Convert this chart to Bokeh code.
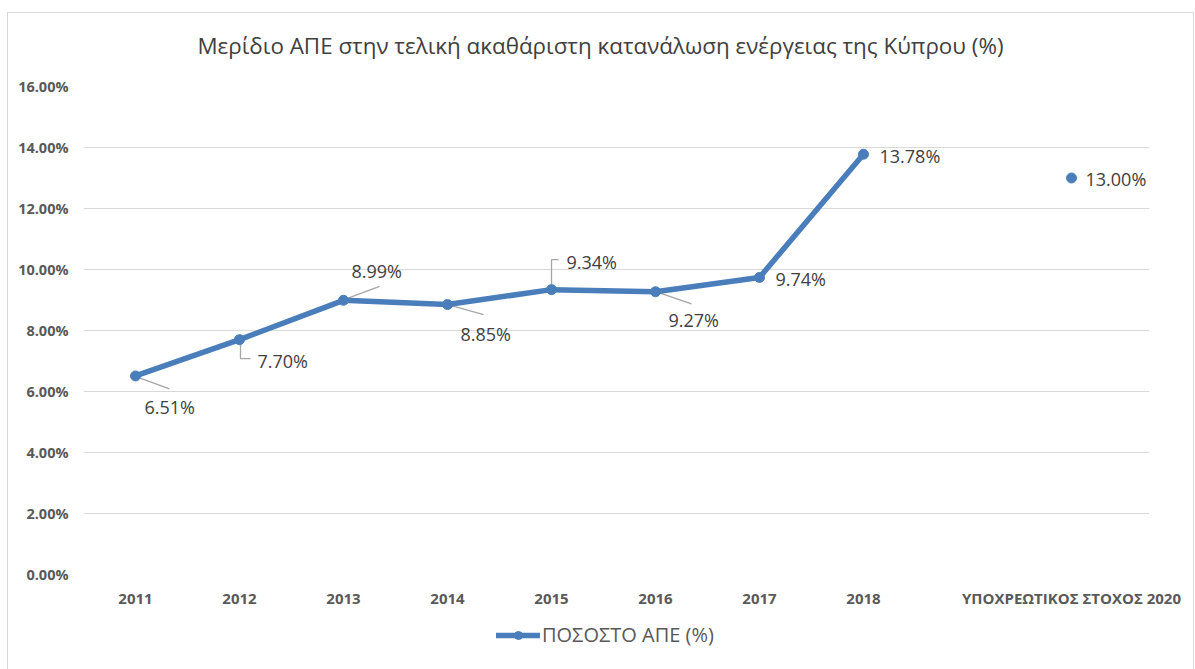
from bokeh.plotting import figure
from bokeh.layouts import column
from bokeh.models import (Legend, LegendItem, FixedTicker, PrintfTickFormatter,
                          ColumnDataSource, Range1d, LabelSet, Label)
from bokeh.embed import file_html
from bokeh.resources import INLINE
from bokeh.core.properties import value

# ---------------- data ----------------
title_text = "Μερίδιο ΑΠΕ στην τελική ακαθάριστη κατανάλωση ενέργειας της Κύπρου (%)"
series_name = "ΠΟΣΟΣΤΟ ΑΠΕ (%)"
categories = ["2011", "2012", "2013", "2014", "2015", "2016", "2017", "2018", "",
              "ΥΠΟΧΡΕΩΤΙΚΟΣ ΣΤΟΧΟΣ 2020"]
share = [6.51, 7.70, 8.99, 8.85, 9.34, 9.27, 9.74, 13.78, None, 13.00]
y_ticks = [0, 2, 4, 6, 8, 10, 12, 14, 16]

# ---------------- style / layout ----------------
BLUE = "#4A7EBB"
FONT = "Open Sans"
W = 1185
TITLE_H = 60
CAT_PX = 104                       # pixels per category slot
EXTRA = 0.25                       # extra room on the right for the last data label
FW, FH = int(CAT_PX * (len(categories) + EXTRA)), 488
ML, MT, MB = 75, 13, 40
MR = W - ML - FW
H = MT + FH + MB
LEG_H = 55
PX_X = CAT_PX
PX_Y = FH / (y_ticks[-1] - y_ticks[0])

# label offsets (pixels, screen y down) and leader-line paths
label_off = {
    "2011": (9, 31), "2012": (18, 21), "2013": (8, -29), "2014": (13, 29),
    "2015": (15, -28), "2016": (13, 28), "2017": (16, 2), "2018": (16, 2),
    "ΥΠΟΧΡΕΩΤΙΚΟΣ ΣΤΟΧΟΣ 2020": (14, 1),
}
leaders = {
    "2011": [(4, 2), (34, 13)],
    "2012": [(1, 3), (1, 19), (11, 19)],
    "2013": [(4, -2), (36, -14)],
    "2014": [(4, 1), (36, 10)],
    "2015": [(0, -3), (0, -30), (7, -30)],
    "2016": [(4, 1), (36, 12)],
}

xs = [i + 0.5 for i in range(len(categories))]
ys = [float("nan") if v is None else v for v in share]


def strip(height):
    f = figure(width=W, height=height, output_backend="svg", toolbar_location=None,
               x_range=Range1d(0, 1), y_range=Range1d(0, 1), min_border=0,
               x_axis_location=None, y_axis_location=None,
               background_fill_color="white", border_fill_color="white")
    f.outline_line_color = None
    f.grid.visible = False
    return f


# title strip
tf = strip(TITLE_H)
tf.add_layout(Label(x=517, y=TITLE_H - 32, x_units="screen", y_units="screen",
                    text=title_text, text_align="center", text_baseline="middle",
                    text_font=FONT, text_font_size="22.4px", text_color="#404040"))

# main chart
p = figure(width=W, height=H, frame_width=FW, frame_height=FH,
           output_backend="svg", toolbar_location=None,
           x_range=Range1d(0, len(categories) + EXTRA), y_range=Range1d(y_ticks[0], y_ticks[-1]),
           min_border_left=ML, min_border_right=MR, min_border_top=MT, min_border_bottom=MB,
           background_fill_color="white", border_fill_color="white")
p.outline_line_color = None
p.title.visible = False

p.xgrid.visible = False
p.ygrid.grid_line_color = "#D9D9D9"
p.ygrid.grid_line_width = 1

p.yaxis.ticker = FixedTicker(ticks=y_ticks)
p.yaxis.formatter = PrintfTickFormatter(format="%.2f%%")
p.xaxis.ticker = FixedTicker(ticks=xs)
p.xaxis.major_label_overrides = {x: c for x, c in zip(xs, categories)}
for ax in (p.xaxis, p.yaxis):
    ax.axis_line_color = None
    ax.major_tick_line_color = None
    ax.minor_tick_line_color = None
    ax.major_label_text_font = FONT
    ax.major_label_text_font_style = "bold"
    ax.major_label_text_color = "#595959"
p.yaxis.major_label_text_font_size = "14.5px"
p.yaxis.major_label_standoff = 9
p.xaxis.major_label_text_font_size = "15px"
p.xaxis.major_label_standoff = 7

# leader lines
lx, ly = [], []
for x, y, c in zip(xs, ys, categories):
    if c in leaders:
        lx.append([x + dx / PX_X for dx, dy in leaders[c]])
        ly.append([y - dy / PX_Y for dx, dy in leaders[c]])
p.multi_line(lx, ly, line_color="#A6A6A6", line_width=1.3)

line_style = dict(line_color=BLUE, line_width=5.5, line_join="round", line_cap="round")
pt_style = dict(size=10, marker="circle", fill_color=BLUE, line_color=BLUE)
p.line(xs, ys, **line_style)
p.scatter(xs, ys, **pt_style)

# data labels
lab = ColumnDataSource(dict(
    x=[x for x, v in zip(xs, share) if v is not None],
    y=[v for v in share if v is not None],
    t=[f"{v:.2f}%" for v in share if v is not None],
    dx=[label_off[c][0] for c, v in zip(categories, share) if v is not None],
    dy=[-label_off[c][1] for c, v in zip(categories, share) if v is not None],
))
p.add_layout(LabelSet(x="x", y="y", text="t", x_offset="dx", y_offset="dy", source=lab,
                      text_align="left", text_baseline="middle", text_font=value(FONT),
                      text_font_size="18px", text_color="#404040"))

# legend strip (its own small figure, same glyph styles as the series)
lf = strip(LEG_H)
nan = float("nan")
lr = lf.line(x=[nan], y=[nan], **line_style)
ls = lf.scatter(x=[nan], y=[nan], **pt_style)
legend = Legend(items=[LegendItem(label=series_name, renderers=[lr, ls])],
                location=(413, 21), orientation="horizontal",
                label_text_font=FONT, label_text_font_size="20px", label_text_color="#595959",
                glyph_width=44, glyph_height=20, border_line_color=None,
                background_fill_alpha=0, padding=4, margin=0, label_standoff=2)
lf.add_layout(legend, "center")

layout = column(tf, p, lf, spacing=0)
layout.styles = {"border": "1px solid #D9D9D9", "margin-left": "7px", "margin-top": "12px"}

open("out.html", "w").write(file_html(layout, INLINE))
